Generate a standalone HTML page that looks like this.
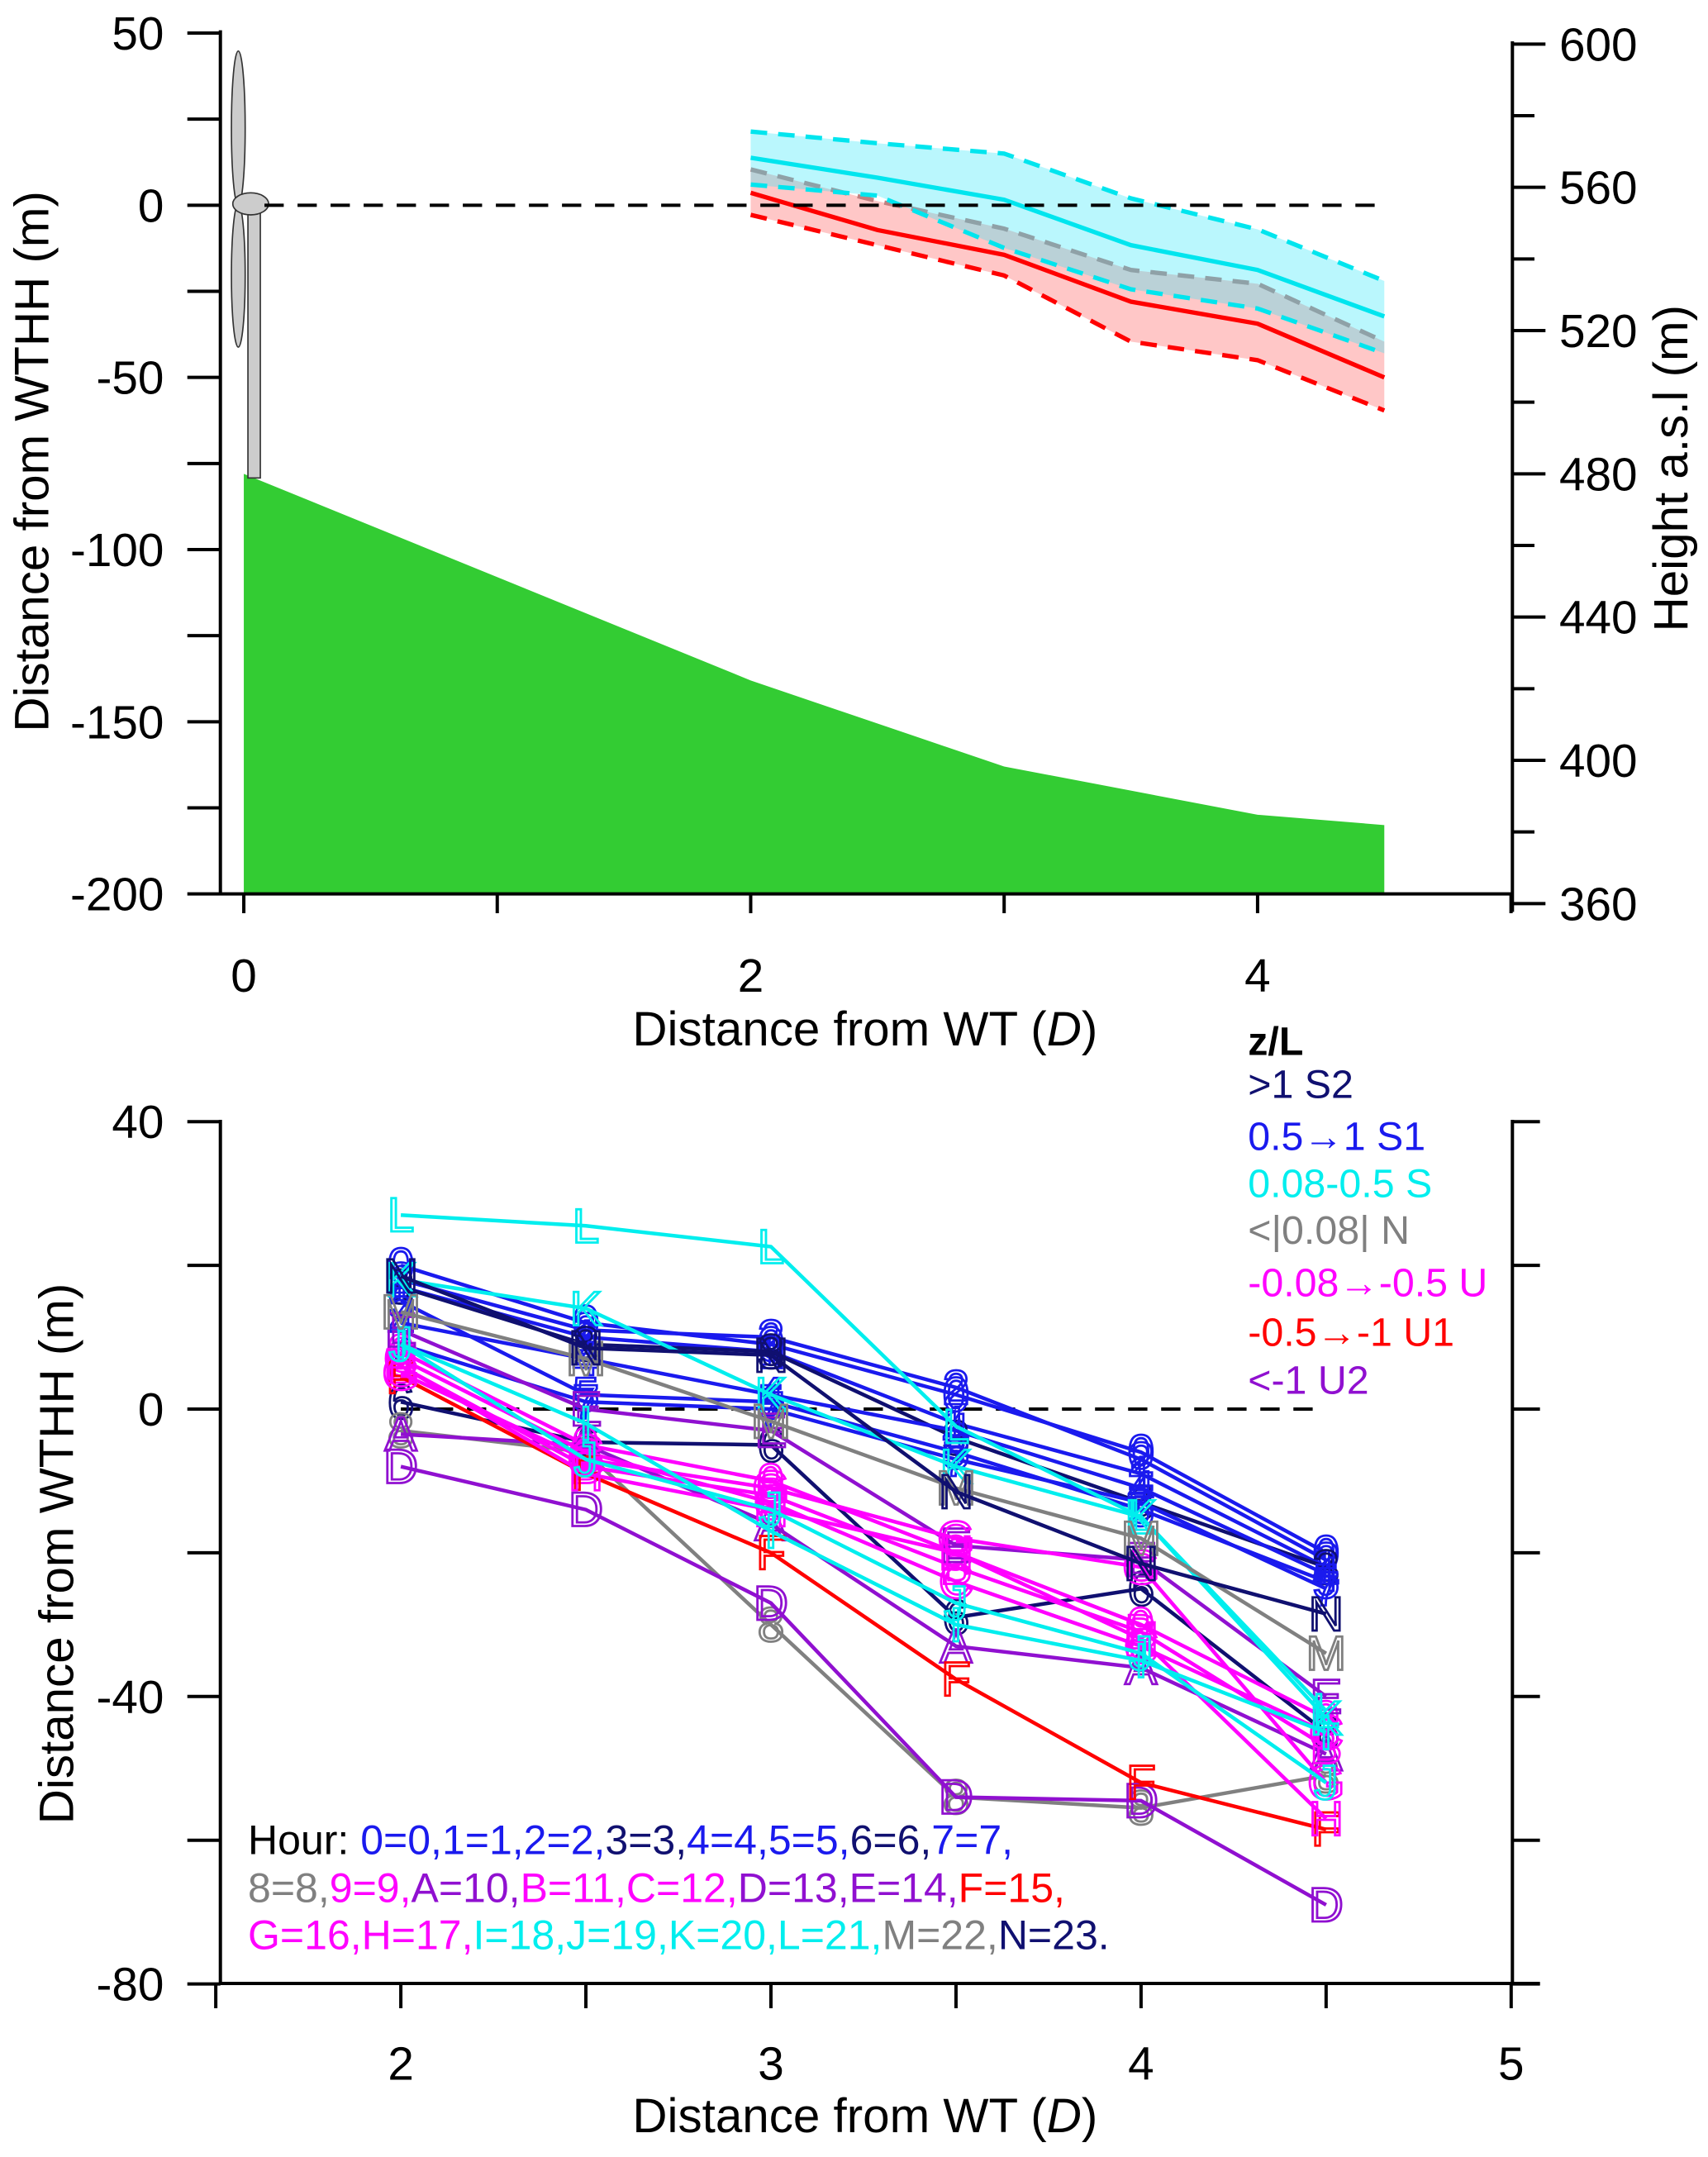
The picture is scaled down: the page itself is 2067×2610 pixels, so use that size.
<!DOCTYPE html>
<html><head><meta charset="utf-8"><style>
html,body{margin:0;padding:0;background:#fff;}
svg{display:block;font-family:"Liberation Sans",Arial,sans-serif;}
</style></head><body>
<svg id="fig" width="2067" height="2610" viewBox="0 0 1240 1566" preserveAspectRatio="none" xmlns="http://www.w3.org/2000/svg">
<g id="topchart"></g>
<g id="botchart"></g>
</svg>
<script>
// ---------- TOP CHART DATA ----------
const topX = [2, 2.5, 3, 3.5, 4, 4.5];
const cyanUpper = [21.4, 18, 15, 2, -7, -22];
const cyanMean = [13.8, 8, 1.6, -11.6, -18.8, -32.3];
const cyanLower = [6, 2.8, -12.4, -24.4, -30, -43];
const redUpper = [10.4, 1.2, -6.8, -18.8, -22.8, -39.6];
const redMean = [3.6, -7.2, -14.4, -28, -34.4, -50];
const redLower = [-2.8, -11.6, -20.4, -39.6, -45, -59.6];
const groundX = [0, 2, 3, 3.5, 4, 4.5];
const groundY = [-78, -138, -163, -170, -177, -180];
const topLeftTicks = [50, 0, -50, -100, -150, -200];
const topRightTicks = [600, 560, 520, 480, 440, 400, 360];
const topXTicks = [0, 2, 4];

// ---------- BOTTOM CHART DATA ----------
const botX = [2, 2.5, 3, 3.5, 4, 4.5];
const hourLabels = ['0','1','2','3','4','5','6','7','8','9','A','B','C','D','E','F','G','H','I','J','K','L','M','N'];
const hourClass = ['S1','S1','S1','S2','S1','S1','S2','S1','N','U','U2','U','U','U2','U2','U1','U','U','S','S','S','S','N','S2'];
const h0 = [20, 12, 9, 2, -6, -20];
const h1 = [17, 10, 8, -2, -9, -22];
const h2 = [18, 11, 10, 3, -7, -21];
const h3 = [17, 9, 8, -4, -13, -22];
const h4 = [12, 7, 2, -3, -11, -23];
const h5 = [15, 2, 1, -6, -14, -24];
const h6 = [1, -4.6, -5, -29, -25, -45];
const h7 = [9, 1, 0, -7, -13, -25];
const h8 = [-3, -6, -30, -54, -55.5, -51];
const h9 = [8, -5, -10, -20, -30, -43];
const hA = [-3.5, -5, -16, -33, -36, -48];
const hB = [6, -8, -12, -22, -31, -47];
const hC = [7, -6, -13, -24, -33, -45];
const hD = [-8, -14, -27, -54, -54.5, -69];
const hE = [11, 0, -3, -19, -21, -40];
const hF = [4.5, -9, -20, -37.6, -52, -58.5];
const hG = [5, -7, -11, -18, -22, -52];
const hH = [6, -9, -14, -20, -32, -57];
const hI = [9, -2, -17, -30, -35, -45];
const hJ = [9, -7, -14, -27, -34, -52];
const hK = [18, 14, 2, -8, -15, -43];
const hL = [27, 25.5, 22.6, -2.4, -15, -42];
const hM = [13.5, 7, -1.7, -11, -18, -34];
const hN = [18.5, 8.5, 7.5, -11.5, -21.5, -28.5];
const hourSeries = [h0,h1,h2,h3,h4,h5,h6,h7,h8,h9,hA,hB,hC,hD,hE,hF,hG,hH,hI,hJ,hK,hL,hM,hN];
const botYTicks = [40, 0, -40, -80];
const botYMinor = [20, -20, -60];
const botXTicks = [2, 3, 4, 5];

const NS = 'http://www.w3.org/2000/svg';
const classColor = {S2:'#101070', S1:'#1a1aee', S:'#00eeee', N:'#808080', U:'#ff00ff', U1:'#ff0000', U2:'#9010d0'};
function mk(parent, tag, attrs, text){
  const el = document.createElementNS(NS, tag);
  for (const k in attrs) el.setAttribute(k, attrs[k]);
  if (text !== undefined) el.textContent = text;
  parent.appendChild(el); return el;
}
const topG = document.getElementById('topchart');
const botG = document.getElementById('botchart');

const tx = d => 177 + 184 * d;
const ty = v => 149 - 2.5 * v;
const tyR = h => 32 + (600 - h) * 2.6;

let gp = groundX.map((d,i)=>tx(d)+','+ty(groundY[i])).join(' ');
gp += ' ' + tx(groundX[groundX.length-1]) + ',' + ty(-200) + ' ' + tx(0) + ',' + ty(-200);
let e = mk(topG,'polygon',{points:gp, fill:'#33cc33'});



const tur = mk(topG,'g',{});


mk(tur,'rect',{x:180,y:150,width:9,height:197,fill:'#cccccc',stroke:'#333',"stroke-width":1});
mk(tur,'ellipse',{cx:173,cy:93,rx:5,ry:56,fill:'#cccccc',stroke:'#333',"stroke-width":1});
mk(tur,'ellipse',{cx:173,cy:200,rx:5,ry:52,fill:'#cccccc',stroke:'#333',"stroke-width":1});
mk(tur,'ellipse',{cx:182,cy:148,rx:13,ry:8,fill:'#cccccc',stroke:'#333',"stroke-width":1});

function band(upper, lower, fill, name){
  const pts = topX.map((d,i)=>tx(d)+','+ty(upper[i])).concat(topX.slice().reverse().map((d,j)=>tx(d)+','+ty(lower[topX.length-1-j]))).join(' ');
  const b = mk(topG,'polygon',{points:pts, fill:fill});
  
  
}
function line(arr, color, dash, name, w){
  const pts = topX.map((d,i)=>tx(d)+','+ty(arr[i])).join(' ');
  const l = mk(topG,'polyline',{points:pts, fill:'none', stroke:color, "stroke-width":w||3.2, "stroke-dasharray":dash||'none'});
  
  
}
band(redUpper, redLower, 'rgba(255,100,100,0.36)', 'unstable-band');
line(redUpper, '#c08080', '12 8', 'unstable-upper-line');
line(redLower, '#ff0000', '12 8', 'unstable-lower-line');
line(redMean, '#ff0000', null, 'unstable-mean-line');
band(cyanUpper, cyanLower, 'rgba(40,230,250,0.32)', 'stable-band');
line(cyanUpper, '#00e5ee', '12 8', 'stable-upper-line');
line(cyanLower, '#00e5ee', '12 8', 'stable-lower-line');
line(cyanMean, '#00e5ee', null, 'stable-mean-line');

e = mk(topG,'line',{x1:tx(0)+15,y1:ty(0),x2:tx(4.5),y2:ty(0),stroke:'#000',"stroke-width":2.4,"stroke-dasharray":'14 10'});



const ax = mk(topG,'g',{stroke:'#000',"stroke-width":2.4,fill:'none'});


mk(ax,'line',{x1:160,y1:22,x2:160,y2:650});
mk(ax,'line',{x1:160,y1:649,x2:1099,y2:649});
mk(ax,'line',{x1:1098,y1:30,x2:1098,y2:662});
for (let v=50; v>=-200; v-=25) mk(ax,'line',{x1:136,y1:ty(v),x2:160,y2:ty(v)});
for (let h=600; h>=360; h-=20) mk(ax,'line',{x1:1098,y1:tyR(h),x2:h%40===0?1122:1114,y2:tyR(h)});
for (let d=0; d<=5; d++) mk(ax,'line',{x1:tx(d),y1:649,x2:tx(d),y2:663});
topLeftTicks.forEach(v=>{
  const t = mk(topG,'text',{x:119,y:ty(v)+12,"font-size":34,"text-anchor":'end'}, String(v));
  
  
});
topRightTicks.forEach(h=>{
  const t = mk(topG,'text',{x:1132,y:tyR(h)+12,"font-size":34}, String(h));
  
  
});
topXTicks.forEach(d=>{
  const t = mk(topG,'text',{x:tx(d),y:720,"font-size":34,"text-anchor":'middle'}, String(d));
  
  
});
e = mk(topG,'text',{x:0,y:0,"font-size":35,"text-anchor":'middle',transform:'translate(35,335) rotate(-90)'},'Distance from WTHH (m)');


e = mk(topG,'text',{x:0,y:0,"font-size":35,"text-anchor":'middle',transform:'translate(1225,340) rotate(-90)'},'Height a.s.l (m)');


e = mk(topG,'text',{x:628,y:759,"font-size":35,"text-anchor":'middle'});


mk(e,'tspan',{},'Distance from WT (');
mk(e,'tspan',{"font-style":'italic'},'D');
mk(e,'tspan',{},')');

// ---------- bottom chart ----------
const bx = d => 291 + 268.7 * (d - 2);
const by = v => 1023 - 5.217 * v;

e = mk(botG,'line',{x1:bx(2),y1:by(0),x2:bx(4.5),y2:by(0),stroke:'#000',"stroke-width":2.4,"stroke-dasharray":'14 10'});



hourSeries.forEach((arr,i)=>{
  const col = classColor[hourClass[i]];
  const g = mk(botG,'g',{});
  
  
  mk(g,'polyline',{points:botX.map((d,j)=>bx(d)+','+by(arr[j])).join(' '),fill:'none',stroke:col,"stroke-width":2.7});
  botX.forEach((d,j)=>{
    const t = mk(g,'text',{x:bx(d),y:by(arr[j])+12,"font-size":35,"text-anchor":'middle',fill:'none',stroke:col,"stroke-width":1.7}, hourLabels[i]);
    
    
  });
});

const bax = mk(botG,'g',{stroke:'#000',"stroke-width":2.4,fill:'none'});


mk(bax,'line',{x1:160,y1:813,x2:160,y2:1441});
mk(bax,'line',{x1:160,y1:1440,x2:1118,y2:1440});
mk(bax,'line',{x1:1098,y1:813,x2:1098,y2:1441});
botYTicks.concat(botYMinor).forEach(v=>{
  mk(bax,'line',{x1:136,y1:by(v),x2:160,y2:by(v)});
  mk(bax,'line',{x1:1098,y1:by(v),x2:1118,y2:by(v)});
});
for (let d=1.5; d<=5.01; d+=0.5) mk(bax,'line',{x1:bx(d),y1:1440,x2:bx(d),y2:1458});
botYTicks.forEach(v=>{
  const t = mk(botG,'text',{x:119,y:by(v)+12,"font-size":34,"text-anchor":'end'}, String(v));
  
  
});
botXTicks.forEach(d=>{
  const t = mk(botG,'text',{x:bx(d),y:1510,"font-size":34,"text-anchor":'middle'}, String(d));
  
  
});
e = mk(botG,'text',{x:0,y:0,"font-size":35,"text-anchor":'middle',transform:'translate(53,1128) rotate(-90)'},'Distance from WTHH (m)');


e = mk(botG,'text',{x:628,y:1548,"font-size":35,"text-anchor":'middle'});


mk(e,'tspan',{},'Distance from WT (');
mk(e,'tspan',{"font-style":'italic'},'D');
mk(e,'tspan',{},')');

const leg = mk(botG,'g',{"font-size":29});


mk(leg,'text',{x:906,y:766,"font-weight":'bold'},'z/L');
[['>1 S2','S2',797],['0.5\u21921 S1','S1',835],['0.08-0.5 S','S',869],['<|0.08| N','N',903],['-0.08\u2192-0.5 U','U',941],['-0.5\u2192-1 U1','U1',977],['<-1 U2','U2',1012]].forEach(r=>{
  const t = mk(leg,'text',{x:906,y:r[2],fill:classColor[r[1]]}, r[0]);
  
  
});

const hl = mk(botG,'g',{"font-size":30});


const hourVals = [0,1,2,3,4,5,6,7,8,9,10,11,12,13,14,15,16,17,18,19,20,21,22,23];
function hourLine(y, idxs, prefix, end){
  const t = mk(hl,'text',{x:180,y:y});
  if (prefix){ mk(t,'tspan',{fill:'#000'},prefix); }
  idxs.forEach((i,k)=>{
    mk(t,'tspan',{fill:classColor[hourClass[i]]}, hourLabels[i]+'='+hourVals[i]+(k<idxs.length-1||!end?',':'.'));
  });
}
hourLine(1346,[0,1,2,3,4,5,6,7],'Hour: ',false);
hourLine(1381,[8,9,10,11,12,13,14,15],'',false);
hourLine(1415,[16,17,18,19,20,21,22,23],'',true);
</script>
</body></html>
